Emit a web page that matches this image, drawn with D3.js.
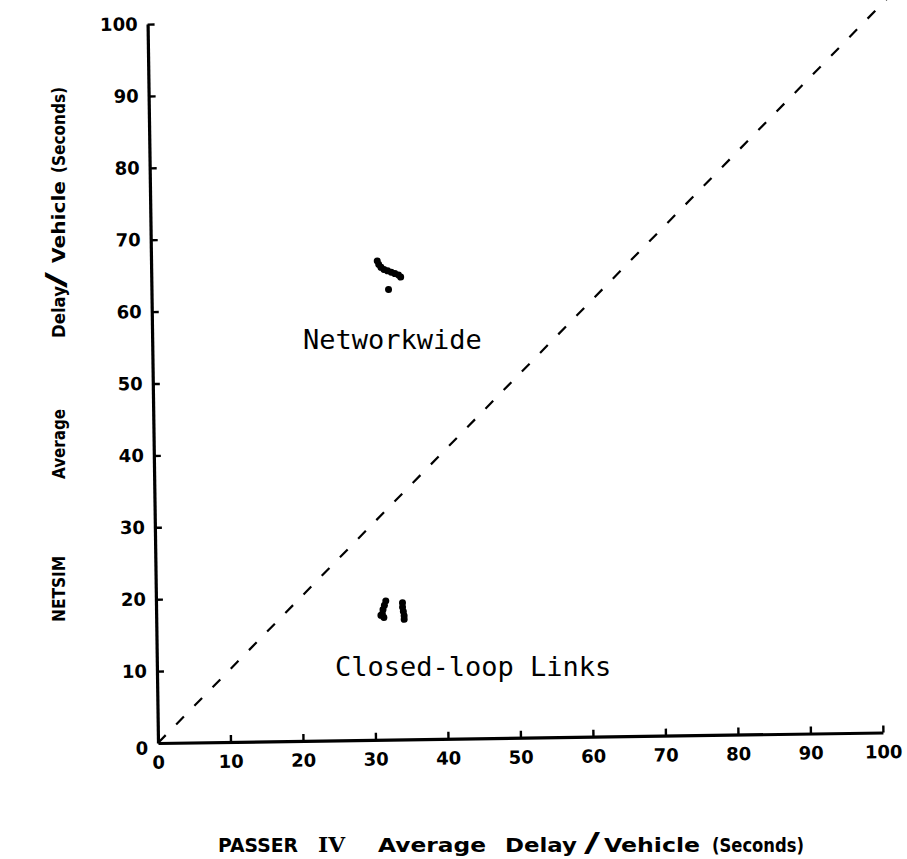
<!DOCTYPE html>
<html>
<head>
<meta charset="utf-8">
<script src="https://cdn.jsdelivr.net/npm/d3@7"></script>
<style>
  html, body { margin: 0; padding: 0; background: #fff; }
  svg { display: block; }
</style>
</head>
<body>
<div id="chart"></div>
<script>
// ---- data ----
const xTicks = [0, 10, 20, 30, 40, 50, 60, 70, 80, 90, 100];
const yTicks = [0, 10, 20, 30, 40, 50, 60, 70, 80, 90, 100];
const networkwideX = [31.2, 31.4, 31.7, 32.1, 32.6, 33.1, 33.6, 34.1, 34.4, 32.7];
const networkwideY = [66.6, 66.1, 65.7, 65.4, 65.2, 65.0, 64.8, 64.6, 64.3, 62.6];
const closedLoopX = [31.7, 31.5, 31.3, 31.2, 31.0, 31.4, 34.0, 34.0, 34.1, 34.2, 34.2];
const closedLoopY = [19.3, 18.7, 18.1, 17.5, 17.3, 17.0, 19.0, 18.4, 17.8, 17.2, 16.7];
const diagonal = [0, 104];
const labelNetworkwide = "Networkwide";
const labelClosedLoop = "Closed-loop Links";
const xTitleWords = ["PASSER", "IV", "Average", "Delay", "/", "Vehicle", "(Seconds)"];
const yTitleWords = ["NETSIM", "Average", "Delay", "/", "Vehicle", "(Seconds)"];

// ---- layout ----
const W = 907, H = 859;
const ox = 158, oy = 743;
const x = d3.scaleLinear().domain([0, 100]).range([ox, 883]);
const y = d3.scaleLinear().domain([0, 100]).range([oy, 24]);

const svg = d3.select("#chart").append("svg")
  .attr("width", W).attr("height", H)
  .attr("viewBox", `0 0 ${W} ${H}`);

const tickFont = "'DejaVu Sans', sans-serif";

// scanned page is slightly rotated
const g = svg.append("g").attr("transform", `rotate(-0.83, ${ox}, ${oy})`);

// diagonal dashed line
g.append("line")
  .attr("x1", x(diagonal[0])).attr("y1", y(diagonal[0]))
  .attr("x2", x(diagonal[1])).attr("y2", y(diagonal[1]))
  .attr("stroke", "#000").attr("stroke-width", 2.2)
  .attr("stroke-dasharray", "11,15");

// axes
const xAxis = d3.axisBottom(x).tickValues(xTicks).tickFormat(d3.format("d"))
  .tickSizeInner(-7).tickSizeOuter(0).tickPadding(13);
const yAxis = d3.axisLeft(y).tickValues(yTicks).tickFormat(d3.format("d"))
  .tickSizeInner(-7).tickSizeOuter(0).tickPadding(10);

const gx = g.append("g").attr("transform", `translate(0,${oy})`).call(xAxis);
const gy = g.append("g").attr("transform", `translate(${ox},0)`).call(yAxis);

[gx, gy].forEach(a => {
  a.select(".domain").attr("stroke", "#000").attr("stroke-width", 3.2);
  a.selectAll(".tick line").attr("stroke", "#000").attr("stroke-width", 2.4);
  a.selectAll(".tick text")
    .attr("fill", "#000")
    .style("font-family", tickFont)
    .style("font-weight", "bold")
    .style("font-size", "18px");
});
gx.selectAll(".tick").filter(d => d === 0).select("line").remove();
gy.selectAll(".tick").filter(d => d === 0).select("line").remove();
gy.selectAll(".tick").filter(d => d === 0).select("text").attr("dy", "0.6em");

// points
const nw = networkwideX.map((v, i) => [v, networkwideY[i]]);
const cl = closedLoopX.map((v, i) => [v, closedLoopY[i]]);
g.append("g").selectAll("circle").data(nw).join("circle")
  .attr("cx", d => x(d[0])).attr("cy", d => y(d[1])).attr("r", 3.5).attr("fill", "#000");
g.append("g").selectAll("circle").data(cl).join("circle")
  .attr("cx", d => x(d[0])).attr("cy", d => y(d[1])).attr("r", 3.5).attr("fill", "#000");

// annotations
const monoFont = "'DejaVu Sans Mono', 'Liberation Mono', monospace";
svg.append("text").attr("x", 303).attr("y", 349)
  .style("font-family", monoFont).style("font-size", "27px").attr("fill", "#000")
  .text(labelNetworkwide);
svg.append("text").attr("x", 335).attr("y", 676)
  .style("font-family", monoFont).style("font-size", "27px").attr("fill", "#000")
  .text(labelClosedLoop);

// x title words: [start, width]
const xPos = [[218, 80], [318, 27], [378, 108], [505, 72], [584, 16], [604, 96], [712, 92]];
xTitleWords.forEach((w, i) => {
  svg.append("text")
    .attr("x", xPos[i][0]).attr("y", 852)
    .attr("textLength", xPos[i][1]).attr("lengthAdjust", "spacingAndGlyphs")
    .attr("fill", "#000")
    .style("font-family", w === "IV" ? "'DejaVu Serif', serif" : tickFont)
    .style("font-weight", "bold")
    .style("font-size", w === "/" ? "26px" : "20px")
    .text(w);
});

// y title words: [start(from bottom), length] along rotated axis
const yPos = [[622, 66], [479, 70], [338, 52], [288, 16], [263, 82], [173, 86]];
yTitleWords.forEach((w, i) => {
  svg.append("text")
    .attr("transform", `translate(65,${yPos[i][0]}) rotate(-90)`)
    .attr("textLength", yPos[i][1]).attr("lengthAdjust", "spacingAndGlyphs")
    .attr("fill", "#000")
    .style("font-family", tickFont)
    .style("font-weight", "bold")
    .style("font-size", w === "/" ? "26px" : "18px")
    .text(w);
});
</script>
</body>
</html>
